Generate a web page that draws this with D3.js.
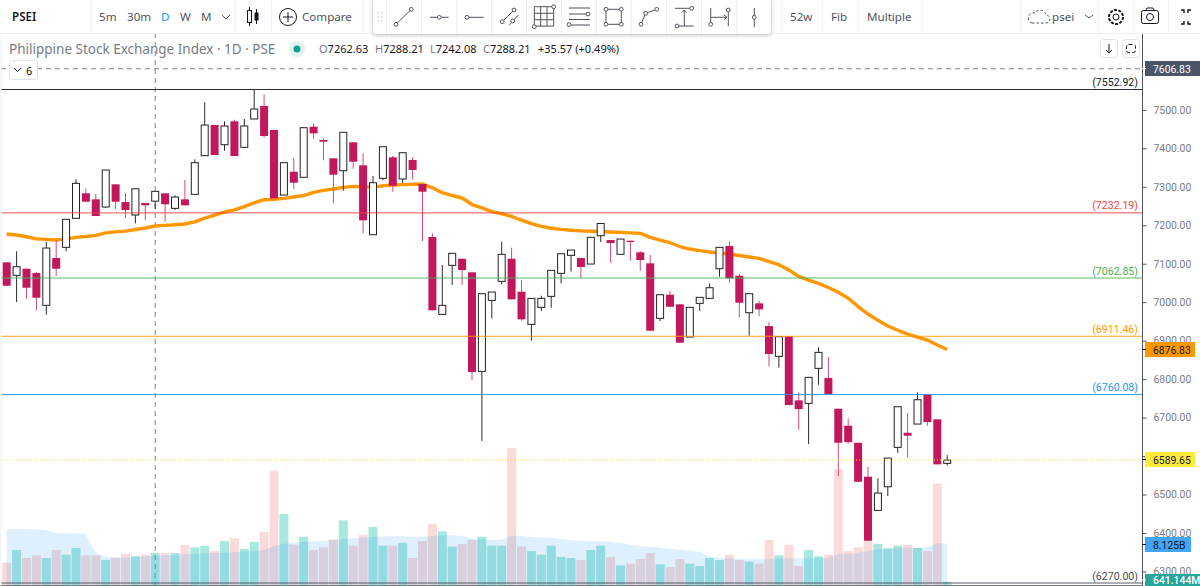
<!DOCTYPE html>
<html>
<head>
<meta charset="utf-8">
<title>PSEI daily chart</title>
<script src="https://cdnjs.cloudflare.com/ajax/libs/d3/7.8.5/d3.min.js"></script>
<style>
html,body{margin:0;padding:0;background:#fff;overflow:hidden}
svg{display:block}
text{font-family:"Noto Sans",Roboto,sans-serif}
</style>
</head>
<body>
<svg id="chart" width="1200" height="586"></svg>
<script>
// Daily bars, oldest first
const opens = [7103.6,7069.8,7087,7075.8,6991.8,7114.8,7142.6,7218,7283,7267.4,7247.4,7306.4,7260.4,7226.6,7257.8,7262.63,7283,7244,7267.4,7280.4,7380.8,7460.6,7409.4,7470.2,7402.6,7476.2,7510,7447.6,7278.6,7339.2,7324.6,7456.2,7421.6,7374,7341.8,7415.6,7355.8,7175.4,7322,7376.6,7320.2,7369.6,7307.2,7169.4,6968.4,7095.8,7113,7077.6,6820.2,7004.8,7054.2,7113,7027.2,6942.4,6986.6,7015.2,7075,7121.8,7114.8,7099.2,7172.8,7161.6,7124.4,7159.8,7129.6,7101,6958,7019.4,6994.4,6909.4,6997,7010,7087,7146,7068.8,6972.6,6997,6938,6859.2,6911.2,6744.8,6737,6828,6802.8,6723,6678.8,6634.6,6546.2,6458.8,6520.2,6622.6,6660.6,6683.2,6760.4,6695.4,6581];
const highs = [7103.6,7132.2,7087,7078.4,7157.2,7161.6,7215.4,7319.4,7296,7281.2,7343.6,7306.4,7283.8,7295,7257.8,7288.21,7283,7277.8,7317.6,7371.4,7519.6,7460.6,7470.2,7474.4,7476.2,7552,7540.4,7447.6,7362.6,7374.8,7453.6,7465,7426,7374,7441.6,7415.6,7387,7328,7404.2,7380,7388.6,7376.6,7307.2,7179,7096.6,7127,7113,7077.6,7022,7026.4,7157.2,7141.6,7057.6,7010,7016.8,7082.8,7126,7135.6,7114.8,7168.6,7204.6,7161.6,7164.2,7159.8,7133,7122.6,7019.4,7029,6994.4,6986.6,7012.6,7049,7142.6,7158.2,7073.2,7022,7003.8,6947.6,6910.2,6911.2,6765.6,6804.6,6882.6,6857.4,6723,6698,6634.6,6572.2,6542,6594.8,6728.2,6711.8,6765.6,6760.4,6695.4,6602.6];
const lows = [7042.8,7000.4,7009,6978.8,6967.4,7068,7132.2,7218,7261.2,7224,7244.8,7242.2,7218.8,7205,7213.6,7242.08,7209.2,7239.6,7251.8,7280.4,7380.8,7382.6,7393.8,7380,7402.6,7476.2,7427.6,7270,7278.6,7294.2,7324.6,7425,7368.8,7257,7289.8,7347,7179,7175.4,7316.8,7287.2,7309.8,7319.4,7159,6978.8,6968.4,7044.6,7044.6,6797.6,6639,6958,7046.4,7007.4,6951.8,6899.8,6977,6985.6,7049,7079.2,7063.6,7099.2,7156.4,7102.6,7124.4,7107.8,7081.8,6925.8,6951,6988.2,6894.6,6909.4,6977,7010,7066.2,7050.6,6960.6,6912.8,6964,6832.2,6829.6,6732.6,6668.4,6631.2,6785.4,6761.2,6548,6632,6533.2,6379.8,6458.8,6496,6608.6,6596.6,6683.2,6678.8,6578.4,6575.8];
const closes = [7042.8,7092.2,7037.6,7011.6,7140.8,7087,7215.4,7309,7261.2,7224,7343.6,7261.2,7239.6,7295,7251.8,7288.21,7254.4,7273.4,7251.8,7362.6,7460.6,7382.6,7458,7380,7458,7502.2,7432,7270,7362.6,7310.6,7453.6,7439,7417.2,7331.4,7441.6,7365.2,7212.8,7310.6,7404.2,7302.8,7388.6,7343.6,7287.2,6978.8,6991.8,7127,7083.6,6818.4,7022,7026.4,7124.4,7007.4,6955.4,7010,7010,7082.8,7126,7135.6,7091.4,7168.6,7204.6,7153.8,7164.2,7156.4,7109.6,6925.8,7019.4,6988.2,6894.6,6986.6,7012.6,7037.6,7142.6,7062,6998.6,7022,6981.4,6865.2,6910.2,6732.6,6722.2,6804.6,6869.6,6761.2,6634.6,6636.4,6533.2,6379.8,6503.8,6594.8,6728.2,6652.8,6746.4,6688.4,6578.4,6589.65];

// Moving average of the close
const priceMA = [7177.2,7174.6,7170.2,7164.7,7163.4,7161.6,7164.7,7168.4,7170.7,7173.6,7180.1,7182.9,7184.7,7188.9,7192.8,7198,7199.8,7201.4,7203.2,7208.9,7218.3,7226.6,7234.4,7240.1,7248.7,7258.3,7266.4,7267.2,7270,7273.4,7277.3,7285.6,7290.8,7294.2,7298.6,7301.2,7299.9,7299.9,7302.5,7304.6,7305.6,7306.7,7307.2,7297.3,7284.6,7277.3,7270.8,7253.9,7245.3,7235.4,7230,7223,7213.1,7204.5,7196.9,7192.3,7189.2,7187.1,7185.5,7184.5,7183.7,7182.4,7181.4,7180.3,7178.8,7168.4,7161.6,7154.6,7144.7,7138.2,7134,7130.4,7127.8,7125.2,7121.3,7117.4,7114,7105.7,7097.4,7083.6,7067.2,7057.6,7049,7038.1,7025.9,7010.3,6988.7,6969.2,6952.8,6938,6927.1,6917.2,6909.4,6901.6,6888.6,6876.83];

// Volume in billions and its moving average
const volumes = [4.39,6.88,5.31,5.83,5.31,6.88,5.96,7.28,5.83,5.83,4.91,5.31,6.16,5.64,5.96,6.29,6.29,6.29,7.87,7.41,7.73,6.68,8.65,9.18,7.08,8.46,10.42,22.42,13.96,7.93,9.5,6.88,7.41,8.98,12.72,7.73,9.83,11.41,7.73,7.73,8.26,5.31,8.65,12,10.55,7.54,8.06,8.85,9.5,7.73,7.73,26.95,7.6,6.68,5.96,7.73,5.5,5.31,4.91,6.88,7.73,5.5,3.87,4.19,5.11,6.29,4.06,3.54,5.11,4.19,3.73,5.31,4.91,5.96,4.91,4.59,4.19,8.85,5.83,7.93,3.73,6.88,5.64,5.96,22.82,6.68,7.41,8.65,8.06,7.21,7.73,7.87,7.28,6.68,19.93,0.641];
const volumeMA = [11.01,11.01,10.95,10.91,10.75,10.23,10.16,10.16,9.96,6.36,5.5,5.44,5.37,5.5,5.64,5.7,5.83,5.9,6.03,6.1,6.23,6.29,6.36,6.42,6.55,6.68,6.88,7.67,8.13,8.32,8.46,8.59,8.65,8.85,8.98,9.18,9.31,9.44,9.57,9.57,9.57,9.5,9.5,9.64,9.77,9.77,9.64,9.11,8.98,8.85,8.91,9.7,9.64,9.44,9.31,9.31,9.11,8.78,8.65,8.59,8.59,8.52,8.26,7.93,7.67,7.54,7.34,7.14,6.95,6.75,6.49,5.57,5.37,5.24,5.11,5.05,5.05,5.11,5.24,5.24,5.24,5.24,5.24,5.37,6.1,6.16,6.36,6.75,7.01,7.14,7.28,7.34,7.34,7.47,8.19,8.125];

// Horizontal levels and their labels
const levelValues = [7552.92,7232.19,7062.85,6911.46,6760.08,6270];
const levelColors = ["#131722","#f44336","#4caf50","#ff9800","#2196f3","#4a4d57"];
const axisTicks = [7500,7400,7300,7200,7100,7000,6900,6800,6700,6600,6500,6400,6300];
const lastPrice = 7606.83, closePrice = 6589.65, maPrice = 6876.83;
const volMaLabel = "8.125B", volLabel = "641.144M";

const svg = d3.select("#chart");
const plotRight = 1142, plotTop = 33, H = 586;
const labelFont = 'Roboto,"Noto Sans",sans-serif';
const idx = d3.range(opens.length);
const x = d3.scaleLinear().domain([0, opens.length - 1]).range([6.7, 947.2]);
const y = d3.scaleLinear().domain([6270, 7552.92]).range([583, 89.5]);
const yVol = d3.scaleLinear().domain([0, 28.52]).range([585, 440]);
const isUp = i => closes[i] >= opens[i];

// Volume pane
svg.append("g").selectAll("rect").data(idx).join("rect")
  .attr("x", i => x(i) - 4.5).attr("width", 9)
  .attr("y", i => yVol(volumes[i]))
  .attr("height", i => H - yVol(volumes[i]))
  .attr("fill", i => isUp(i) ? "#a9e8df" : "#fadada");
svg.append("path").datum(idx)
  .attr("d", d3.area().x(i => x(i)).y0(H).y1(i => yVol(volumeMA[i])))
  .attr("fill", "#2196f3").attr("fill-opacity", 0.15);

// Crosshair
svg.append("line").attr("x1", x(15)).attr("x2", x(15)).attr("y1", plotTop).attr("y2", H)
  .attr("stroke", "#758696").attr("stroke-dasharray", "5 4");

// Price moving average
svg.append("path").datum(idx)
  .attr("d", d3.line().x(i => x(i)).y(i => y(priceMA[i])))
  .attr("fill", "none").attr("stroke", "#ff9800").attr("stroke-width", 3.4).attr("stroke-linejoin", "round");

// Candles
const candle = svg.append("g").selectAll("g").data(idx).join("g");
candle.append("line")
  .attr("x1", i => x(i)).attr("x2", i => x(i))
  .attr("y1", i => y(highs[i])).attr("y2", i => y(lows[i]))
  .attr("stroke", i => isUp(i) ? "#2b2b2b" : "#d9477f").attr("stroke-width", 1);
candle.append("rect")
  .attr("x", i => x(i) - (isUp(i) ? 3.5 : 4)).attr("width", i => isUp(i) ? 7 : 8)
  .attr("y", i => y(Math.max(opens[i], closes[i])))
  .attr("height", i => Math.max(1, Math.abs(y(opens[i]) - y(closes[i]))))
  .attr("fill", i => isUp(i) ? "#fff" : "#c2185b")
  .attr("stroke", i => isUp(i) ? "#222" : "none").attr("stroke-width", 1);

// Levels
const levels = svg.append("g").selectAll("g").data(levelValues).join("g");
levels.append("line").attr("x1", 1).attr("x2", plotRight)
  .attr("y1", d => y(d)).attr("y2", d => y(d))
  .attr("stroke", (d, i) => levelColors[i]).attr("stroke-width", 1).attr("stroke-opacity", 0.9);
levels.append("text").attr("x", 1138).attr("y", d => y(d) - 3.5).attr("text-anchor", "end")
  .attr("font-size", 10.6).style("font-family", labelFont)
  .attr("fill", (d, i) => levelColors[i]).text(d => `(${d.toFixed(2)})`);

// Latest close and highest price lines
svg.append("line").attr("x1", 1).attr("x2", plotRight).attr("y1", y(lastPrice)).attr("y2", y(lastPrice))
  .attr("stroke", "#758696").attr("stroke-dasharray", "5 4");
svg.append("line").attr("x1", 1).attr("x2", plotRight).attr("y1", y(closePrice)).attr("y2", y(closePrice))
  .attr("stroke", "#ffeb3b").attr("stroke-dasharray", "1 2");
svg.append("line").attr("x1", 0).attr("x2", plotRight).attr("y1", 585.5).attr("y2", 585.5).attr("stroke", "#777");
svg.append("line").attr("x1", 1).attr("x2", 1).attr("y1", plotTop).attr("y2", H).attr("stroke", "#eaf2fa");

// Price axis
const axis = svg.append("g").attr("transform", `translate(${plotRight + 0.5},0)`)
  .call(d3.axisRight(y).tickValues(axisTicks).tickSize(4).tickPadding(7).tickFormat(d3.format(".2f")));
axis.select(".domain").attr("stroke", "#50535e").attr("d", `M0,${plotTop}V${H}`);
axis.selectAll(".tick line").attr("stroke", "#50535e");
axis.selectAll(".tick text").attr("fill", "#787b86").attr("font-size", 10.4).style("font-family", labelFont);

// Value tags on the price axis
const tags = [
  {top: 61, h: 15, t: lastPrice.toFixed(2), bg: "#4a5568", fg: "#fff", w: 55, weight: 400},
  {top: 342, h: 15, t: maPrice.toFixed(2), bg: "#ff9800", fg: "#131722", w: 50, weight: 400},
  {top: 452, h: 15, t: closePrice.toFixed(2), bg: "#ffeb3b", fg: "#131722", w: 50, weight: 400},
  {top: 537, h: 15, t: volMaLabel, bg: "#42a5f5", fg: "#131722", w: 46, weight: 400},
  {top: 574, h: 12, t: volLabel, bg: "#26a69a", fg: "#fff", w: 55, weight: 500}
];
const tag = svg.append("g").selectAll("g").data(tags).join("g");
tag.append("rect").attr("x", plotRight + 3).attr("width", d => d.w).attr("y", d => d.top).attr("height", d => d.h).attr("fill", d => d.bg);
tag.append("line").attr("x1", plotRight).attr("x2", plotRight + 4).attr("y1", d => d.top + d.h / 2).attr("y2", d => d.top + d.h / 2).attr("stroke", d => d.fg === "#fff" ? "#fff" : "#131722");
tag.append("text").attr("x", plotRight + 11).attr("y", d => d.top + d.h / 2 + 4).attr("font-size", 10.4).attr("font-weight", d => d.weight).style("font-family", labelFont).attr("fill", d => d.fg).text(d => d.t);

// Legend row
const legend = svg.append("g");
legend.append("text").attr("x", 9).attr("y", 54).attr("font-size", 13.5).attr("fill", "#787b86").text("Philippine Stock Exchange Index · 1D · PSE");
legend.append("circle").attr("cx", 297).attr("cy", 49).attr("r", 8).attr("fill", "#e0f2ef");
legend.append("circle").attr("cx", 297).attr("cy", 49).attr("r", 3.5).attr("fill", "#13a08f");
const ohlc = [["O", opens[15], 319], ["H", highs[15], 375], ["L", lows[15], 430], ["C", closes[15], 483]];
ohlc.forEach(([k, v, px]) => {
  const t = legend.append("text").attr("x", px).attr("y", 53).attr("font-size", 11).attr("fill", "#131722");
  t.append("tspan").attr("fill", "#787b86").text(k);
  t.append("tspan").text(v.toFixed(2));
});
legend.append("text").attr("x", 538).attr("y", 53).attr("font-size", 11).attr("fill", "#131722").text("+35.57 (+0.49%)");

// Collapse button for the hidden studies
const col = svg.append("g");
col.append("rect").attr("x", 9.5).attr("y", 60.5).attr("width", 28).attr("height", 19).attr("rx", 2).attr("fill", "#fff").attr("stroke", "#e0e3eb");
col.append("path").attr("d", "M14 68l3.5 3.5 3.5-3.5").attr("fill", "none").attr("stroke", "#131722");
col.append("text").attr("x", 26).attr("y", 75).attr("font-size", 11).attr("fill", "#131722").text("6");

// Scale buttons in the top corner of the plot
const btn = svg.append("g").attr("fill", "none").attr("stroke", "#e0e3eb");
btn.append("rect").attr("x", 1100.5).attr("y", 39.5).attr("width", 17).attr("height", 18).attr("rx", 3).attr("fill", "#fff");
btn.append("rect").attr("x", 1122.5).attr("y", 39.5).attr("width", 17).attr("height", 18).attr("rx", 3).attr("fill", "#fff");
btn.append("path").attr("d", "M1109 44v9M1106 50l3 3 3-3").attr("stroke", "#131722");
btn.append("rect").attr("x", 1126.5).attr("y", 44.5).attr("width", 9).attr("height", 8).attr("rx", 2).attr("stroke", "#131722").attr("stroke-dasharray", "4 2");

// Header toolbar
const head = svg.append("g");
head.append("rect").attr("width", 1200).attr("height", 33).attr("fill", "#fff");
head.append("line").attr("x1", 0).attr("x2", 1200).attr("y1", 33.5).attr("y2", 33.5).attr("stroke", "#eef0f4");
[91, 235, 271, 363, 781, 822, 858, 922, 1020, 1098, 1133, 1168].forEach(px =>
  head.append("line").attr("x1", px + .5).attr("x2", px + .5).attr("y1", 0).attr("y2", 33).attr("stroke", "#f0f3fa"));
const menu = [["PSEI", 12, "#131722", 600], ["5m", 99, "#50535e", 400], ["30m", 127, "#50535e", 400], ["D", 161, "#2196f3", 400], ["W", 180, "#50535e", 400], ["M", 201, "#50535e", 400], ["Compare", 302, "#50535e", 400], ["52w", 790, "#50535e", 400], ["Fib", 831, "#50535e", 400], ["Multiple", 867, "#50535e", 400], ["psei", 1052, "#50535e", 400]];
menu.forEach(([t, px, c, w]) => head.append("text").attr("x", px).attr("y", 21).attr("font-size", 11.6).attr("font-weight", w).attr("fill", c).text(t));

const icon = (d, c = "#131722", w = 1, g = head) => g.append("path").attr("d", d).attr("fill", "none").attr("stroke", c).attr("stroke-width", w);
icon("M222 15l4 4 4-4", "#50535e");
icon("M1085 15l4 3 4-3", "#50535e");
icon("M249.5 7v19M256.5 9v15");
head.append("rect").attr("x", 247.5).attr("y", 10.5).attr("width", 4).attr("height", 12).attr("fill", "#fff").attr("stroke", "#131722");
head.append("rect").attr("x", 254.5).attr("y", 12.5).attr("width", 4).attr("height", 8).attr("fill", "#131722");
head.append("circle").attr("cx", 288).attr("cy", 17).attr("r", 8.5).attr("fill", "none").attr("stroke", "#131722");
icon("M288 12v10M283 17h10");

// Cloud, settings, camera and fullscreen glyphs
head.append("path").attr("d", "M1032 23h14a4 4 0 0 0 0-8 6 6 0 0 0-11-2 5 5 0 0 0-3 10z").attr("fill", "none").attr("stroke", "#50535e").attr("stroke-dasharray", "2.5 2");
head.append("circle").attr("cx", 1116).attr("cy", 17).attr("r", 3).attr("fill", "none").attr("stroke", "#131722");
head.append("circle").attr("cx", 1116).attr("cy", 17).attr("r", 7).attr("fill", "none").attr("stroke", "#131722").attr("stroke-width", 2).attr("stroke-dasharray", "3 1.4");
head.append("rect").attr("x", 1141.5).attr("y", 10.5).attr("width", 17).attr("height", 13).attr("rx", 2).attr("fill", "none").attr("stroke", "#131722");
head.append("circle").attr("cx", 1150).attr("cy", 17).attr("r", 3.5).attr("fill", "none").attr("stroke", "#131722");
icon("M1146 10l1-2h6l1 2");
icon("M1181 10h3v3M1191 10h-3v3M1181 24h3v-3M1191 24h-3v-3", "#131722", 1.4);

// Floating drawing toolbar
const tools = svg.append("g");
tools.append("rect").attr("x", 373).attr("y", -4).attr("width", 398).attr("height", 38).attr("rx", 3).attr("fill", "#fff")
  .style("filter", "drop-shadow(0 1px 2px rgba(40,50,70,.35))");
[386, 421, 456, 491, 526, 561, 596, 631, 666, 701, 736].forEach(px =>
  tools.append("line").attr("x1", px + .5).attr("x2", px + .5).attr("y1", 0).attr("y2", 34).attr("stroke", "#eef0f4"));
d3.range(3).forEach(r => d3.range(2).forEach(c =>
  tools.append("rect").attr("x", 377.5 + c * 3.5).attr("y", 12 + r * 4.2).attr("width", 1.5).attr("height", 1.5).attr("fill", "#d3d6de")));
const glyphs = [
  "M396 24.3L411.3 9.3",
  "M430 17.3h18.7",
  "M467 17.3h16.7",
  "M502.3 21.7L514 10M509.3 25L518.3 15",
  "M534.3 6.7h19.4v19.4h-19.4zM540.7 6.7v19.4M547 6.7v19.4M534.3 13.3h19.4M534.3 19.7h19.4",
  "M569 8h21M569 14h21M569 19.5h21M569 25h21",
  "M606 9.3h15.3v15h-15.3z",
  "M641 24.3L645.7 13.3L656.7 9.3",
  "M675 8.3h16.7M677 26h16.7M684.3 26V10M682 12.5l2.3-2.5 2.3 2.5",
  "M710.7 8v18M728.3 8v18M711 17.3h16M724 15l3 2.3-3 2.3",
  "M754.3 8v19"
];
glyphs.forEach(d => icon(d, "#50535e", 1, tools));
const handles = [[396, 24.3], [411.3, 9.3], [439.3, 17.3], [467, 17.3], [502.3, 21.7], [514, 10], [512.7, 21], [534.3, 26.7], [553.7, 6.7], [569, 24.5], [588, 14], [606, 9.3], [621.3, 9.3], [606, 24.3], [621.3, 24.3], [641, 24.3], [645.7, 13.3], [656.7, 9.3], [691.7, 8.3], [677, 26], [710.7, 24.3], [728.3, 10], [754.3, 17.3]];
tools.selectAll("circle").data(handles).join("circle")
  .attr("cx", d => d[0]).attr("cy", d => d[1]).attr("r", 1.9).attr("fill", "#fff").attr("stroke", "#50535e");
</script>
</body>
</html>
